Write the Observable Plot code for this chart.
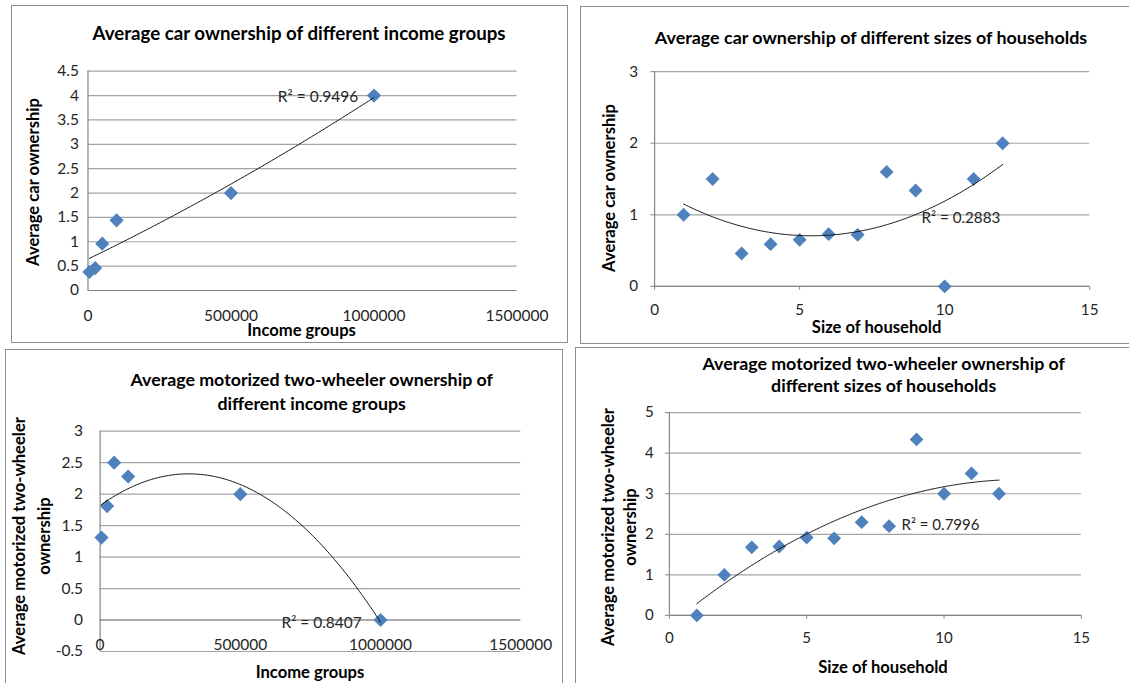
<!DOCTYPE html>
<html>
<head>
<meta charset="utf-8">
<script src="https://cdn.jsdelivr.net/npm/d3@7"></script>
<script src="https://cdn.jsdelivr.net/npm/@observablehq/plot@0.6"></script>
<style>
  body { margin: 0; background: #fff; }
  #root { position: relative; width: 1129px; height: 683px; overflow: hidden; font-family: Lato, "Open Sans", sans-serif; color: #000; }
  .box { position: absolute; border: 1.5px solid #8c8c8c; box-sizing: border-box; }
  .title { position: absolute; font-weight: bold; font-size: 17.8px; text-align: center; white-space: nowrap; transform: translate(-50%, -50%); }
  .axt { position: absolute; font-weight: bold; font-size: 16.6px; text-align: center; white-space: nowrap; transform: translate(-50%, -50%); }
  .axt.rot { transform: translate(-50%, -50%) rotate(-90deg); }
  .plotwrap { position: absolute; }
</style>
</head>
<body>
<div id="root"></div>
<script>
// ---- data ----
const incomeGroups = [5000, 25000, 50000, 100000, 500000, 1000000];
const carByIncome = [0.38, 0.46, 0.96, 1.44, 2.0, 4.0];
const twoWheelerByIncome = [1.31, 1.81, 2.5, 2.28, 2.0, 0.0];

const householdSizes = [1, 2, 3, 4, 5, 6, 7, 8, 9, 10, 11, 12];
const carBySize = [1.0, 1.5, 0.46, 0.59, 0.65, 0.73, 0.72, 1.6, 1.34, 0.0, 1.5, 2.0];
const twoWheelerBySize = [0.0, 1.0, 1.68, 1.70, 1.92, 1.90, 2.30, 2.20, 4.34, 3.0, 3.5, 3.0];

const incomeTicks = [0, 500000, 1000000, 1500000];
const sizeTicks = [0, 5, 10, 15];
const carIncomeTicks = [0, 0.5, 1, 1.5, 2, 2.5, 3, 3.5, 4, 4.5];
const carSizeTicks = [0, 1, 2, 3];
const twIncomeTicks = [-0.5, 0, 0.5, 1, 1.5, 2, 2.5, 3];
const twSizeTicks = [0, 1, 2, 3, 4, 5];

const titles = [
  ["Average car ownership of different income groups"],
  ["Average car ownership of different sizes of households"],
  ["Average motorized two-wheeler ownership of", "different income groups"],
  ["Average motorized two-wheeler ownership of", "different sizes of households"]
];
const xTitles = ["Income groups", "Size of household", "Income groups", "Size of household"];
const yTitles = [
  ["Average car ownership"],
  ["Average car ownership"],
  ["Average motorized two-wheeler", "ownership"],
  ["Average motorized two-wheeler", "ownership"]
];
const r2Texts = ["R² = 0.9496", "R² = 0.2883", "R² = 0.8407", "R² = 0.7996"];

// ---- layout (page pixels) ----
const layouts = [
  { box: [11, 5, 557, 338], plot: [87.5, 516.5, 70.7, 290], tick: 0, xPad: 19, yPad: 9,
    title: [299, 33, 24, 18.7], xt: [301.6, 330], yt: [33, 182, 22], r2: { x: 945000, y: 3.96, anchor: "end" }, scale: 1e6 },
  { box: [580, 5.5, 560, 338], plot: [655.6, 1099.4, 72, 291], tick: 4, xPad: 14, yPad: 13,
    title: [871, 37, 24, 17.9], xt: [876.6, 326.7], yt: [608.5, 188, 22], r2: { x: 9.2, y: 0.95, anchor: "start" }, scale: 1 },
  { box: [4.7, 349, 558.3, 360], plot: [99.3, 520, 430.7, 651], tick: 0, xAtZero: true, xDy: 24.7, yPad: 17,
    title: [311.7, 391.3, 24, 17.8], xt: [310, 671.7], yt: [31.5, 536, 25], r2: { x: 933000, y: -0.04, anchor: "end" }, scale: 1e6 },
  { box: [575, 347, 570, 360], plot: [671.6, 1095.5, 414, 622.7], tick: 4, xPad: 13.5, yPad: 12,
    title: [883.7, 373.8, 22.3, 17.8], xt: [883, 666.7], yt: [619.8, 526.7, 21.6], r2: { x: 8.45, y: 2.22, anchor: "start" }, scale: 1 }
];

const panels = [
  { xs: incomeGroups, ys: carByIncome, xDomain: [0, 1500000], xTicks: incomeTicks, yDomain: [0, 4.5], yTicks: carIncomeTicks },
  { xs: householdSizes, ys: carBySize, xDomain: [0, 15], xTicks: sizeTicks, yDomain: [0, 3], yTicks: carSizeTicks },
  { xs: incomeGroups, ys: twoWheelerByIncome, xDomain: [0, 1500000], xTicks: incomeTicks, yDomain: [-0.5, 3], yTicks: twIncomeTicks },
  { xs: householdSizes, ys: twoWheelerBySize, xDomain: [0, 15], xTicks: sizeTicks, yDomain: [0, 5], yTicks: twSizeTicks }
];

// second-order polynomial least-squares trend line (as in the spreadsheet)
function fit2(xs, ys, scale) {
  const X = xs.map(x => x / scale);
  const s = [0, 0, 0, 0, 0], t = [0, 0, 0];
  X.forEach((x, i) => {
    for (let k = 0; k < 5; k++) s[k] += x ** k;
    for (let k = 0; k < 3; k++) t[k] += ys[i] * x ** k;
  });
  const A = [[s[0], s[1], s[2], t[0]], [s[1], s[2], s[3], t[1]], [s[2], s[3], s[4], t[2]]];
  for (let i = 0; i < 3; i++) {
    let p = i;
    for (let r = i + 1; r < 3; r++) if (Math.abs(A[r][i]) > Math.abs(A[p][i])) p = r;
    [A[i], A[p]] = [A[p], A[i]];
    for (let r = 0; r < 3; r++) if (r !== i) {
      const f = A[r][i] / A[i][i];
      for (let c = i; c < 4; c++) A[r][c] -= f * A[i][c];
    }
  }
  const c = [A[0][3] / A[0][0], A[1][3] / A[1][1], A[2][3] / A[2][2]];
  return x => c[0] + c[1] * (x / scale) + c[2] * (x / scale) ** 2;
}

const root = document.getElementById("root");
const FONT = "Lato, 'Open Sans', sans-serif";
const GRID = "#a3a3a3", AXIS = "#868686", TXT = "#262626";

panels.forEach((P, i) => {
  const L = layouts[i];
  const [bl, bt, bw, bh] = L.box;
  const [pl, pr, pt, pb] = L.plot;

  const box = document.createElement("div");
  box.className = "box";
  Object.assign(box.style, { left: bl + "px", top: bt + "px", width: bw + "px", height: bh + "px" });
  root.appendChild(box);

  const f = fit2(P.xs, P.ys, L.scale);
  const x0 = d3.min(P.xs), x1 = d3.max(P.xs);
  const curve = d3.range(0, 201).map(k => { const x = x0 + (x1 - x0) * k / 200; return { x, y: f(x) }; });
  const pts = P.xs.map((x, k) => ({ x, y: P.ys[k] }));

  const xAxisMark = L.xAtZero
    ? Plot.text(P.xTicks, { x: d => d, y: 0, dy: L.xDy, text: d => String(d), fontSize: 15.5, fill: TXT })
    : Plot.axisX(P.xTicks, { tickSize: L.tick, tickPadding: L.xPad, tickFormat: d => String(d), stroke: AXIS, fill: TXT, fontSize: 15.5, label: null });

  const svg = Plot.plot({
    width: bw, height: bh,
    marginLeft: pl - bl, marginRight: bl + bw - pr, marginTop: pt - bt, marginBottom: bt + bh - pb,
    style: { fontFamily: FONT, fontSize: "15.5px", color: TXT, background: "transparent", overflow: "visible" },
    x: { domain: P.xDomain, axis: null },
    y: { domain: P.yDomain, axis: null },
    marks: [
      Plot.gridY(P.yTicks, { stroke: GRID, strokeOpacity: 1, strokeWidth: 1.2 }),
      Plot.ruleX([P.xDomain[0]], { stroke: AXIS, strokeWidth: 1.2 }),
      Plot.ruleY([0], { stroke: AXIS, strokeWidth: 1.2 }),
      xAxisMark,
      Plot.axisY(P.yTicks, { tickSize: L.tick, tickPadding: L.yPad, tickFormat: d => String(d), stroke: AXIS, fill: TXT, fontSize: 15.5, label: null }),
      Plot.dot(pts, { x: "x", y: "y", symbol: "diamond2", fill: "#4F81BD", stroke: "none", r: 6.4 }),
      Plot.line(curve, { x: "x", y: "y", stroke: "#111", strokeWidth: 1 }),
      Plot.text([{ x: L.r2.x, y: L.r2.y, t: r2Texts[i] }], { x: "x", y: "y", text: "t", textAnchor: L.r2.anchor, fontSize: 15.5, fill: TXT })
    ]
  });
  const wrap = document.createElement("div");
  wrap.className = "plotwrap";
  Object.assign(wrap.style, { left: bl + "px", top: bt + "px" });
  wrap.appendChild(svg);
  root.appendChild(wrap);

  // chart title
  const tt = document.createElement("div");
  tt.className = "title";
  Object.assign(tt.style, { left: L.title[0] + "px", top: L.title[1] + "px", lineHeight: L.title[2] + "px", fontSize: L.title[3] + "px" });
  tt.innerHTML = titles[i].join("<br>");
  root.appendChild(tt);

  // x axis title
  const xt = document.createElement("div");
  xt.className = "axt";
  Object.assign(xt.style, { left: L.xt[0] + "px", top: L.xt[1] + "px" });
  xt.textContent = xTitles[i];
  root.appendChild(xt);

  // y axis title
  const yt = document.createElement("div");
  yt.className = "axt rot";
  Object.assign(yt.style, { left: L.yt[0] + "px", top: L.yt[1] + "px", lineHeight: L.yt[2] + "px" });
  yt.innerHTML = yTitles[i].join("<br>");
  root.appendChild(yt);
});
</script>
</body>
</html>
